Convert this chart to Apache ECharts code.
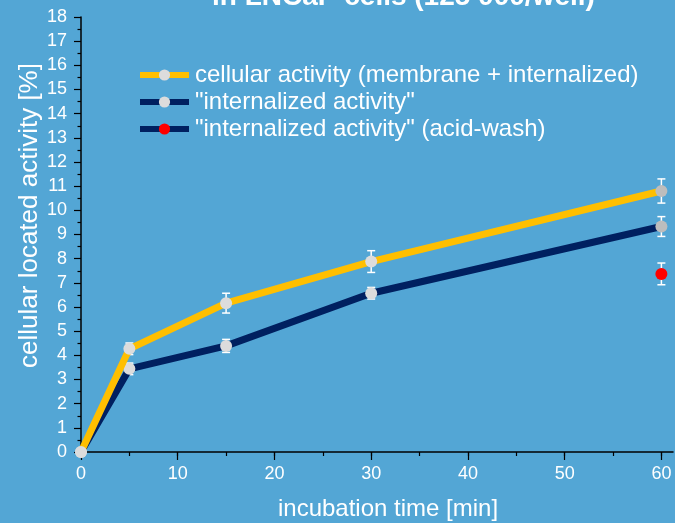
<!DOCTYPE html>
<html>
<head>
<meta charset="utf-8">
<script src="https://cdn.jsdelivr.net/npm/echarts@6/dist/echarts.min.js"></script>
<style>
html,body{margin:0;padding:0;background:#53a6d5;}
#chart{width:675px;height:523px;}
</style>
</head>
<body>
<div id="chart"></div>
<script>
// ---- data ----
const titleText = 'in LNCaP cells (125 000/well)';
const seriesNames = ['cellular activity (membrane + internalized)', '"internalized activity"', '"internalized activity" (acid-wash)'];
const timeMin = [0, 5, 15, 30, 60];
const cellularActivity = [0, 4.27, 6.16, 7.88, 10.8];
const cellularErr = [0, 0.24, 0.41, 0.45, 0.5];
const internalizedActivity = [0, 3.44, 4.39, 6.57, 9.33];
const internalizedErr = [0, 0.24, 0.27, 0.24, 0.41];
const acidWashTime = [60];
const acidWashActivity = [7.37];
const acidWashErr = [0.45];
const xLabelValues = [0, 10, 20, 30, 40, 50, 60];
const xMinorTickValues = [0, 5, 10, 15, 20, 25, 30, 35, 40, 45, 50, 55, 60];

const FONT = '"Liberation Sans", Arial, sans-serif';
const YELLOW = '#ffbf00';
const NAVY = '#002060';
const MARK = '#dcdcdc';
const MARK_END = '#bdbdbd';

function pts(xs, ys) { return xs.map((x, i) => [x, ys[i]]); }
function errPts(xs, ys, es) { return xs.map((x, i) => [x, ys[i] - es[i], ys[i] + es[i]]); }

function markerData(xs, ys, normal, last) {
  return xs.map((x, i) => ({ value: [x, ys[i]], itemStyle: { color: x === 60 ? last : normal } }));
}

function renderErr(params, api) {
  const x = api.value(0);
  const lo = api.value(1), hi = api.value(2);
  if (hi - lo <= 0) return null;
  const pLo = api.coord([x, lo]);
  const pHi = api.coord([x, hi]);
  const hw = 4;
  const style = { stroke: '#ffffff', lineWidth: 1.5 };
  return {
    type: 'group',
    children: [
      { type: 'line', shape: { x1: pLo[0], y1: pLo[1], x2: pHi[0], y2: pHi[1] }, style },
      { type: 'line', shape: { x1: pLo[0] - hw, y1: pLo[1], x2: pLo[0] + hw, y2: pLo[1] }, style },
      { type: 'line', shape: { x1: pHi[0] - hw, y1: pHi[1], x2: pHi[0] + hw, y2: pHi[1] }, style }
    ]
  };
}

const chart = echarts.init(document.getElementById('chart'));
chart.setOption({
  backgroundColor: '#53a6d5',
  animation: false,
  textStyle: { fontFamily: FONT },
  title: {
    text: titleText,
    left: 207,
    top: -22,
    textStyle: { color: '#ffffff', fontSize: 28, fontWeight: 'bold', fontFamily: FONT }
  },
  legend: {
    orient: 'vertical',
    left: 137,
    top: 63,
    padding: 0,
    itemWidth: 49,
    itemHeight: 14,
    itemGap: 3,
    data: seriesNames,
    lineStyle: { width: 6 },
    textStyle: { color: '#ffffff', fontSize: 24, fontFamily: FONT, lineHeight: 24, padding: [0, 0, 0, 1] }
  },
  grid: { left: 81, right: 2, top: 17, bottom: 71, containLabel: false, outerBoundsMode: 'none' },
  xAxis: [{
    type: 'value',
    min: 0,
    max: 61.2,
    name: 'incubation time [min]',
    nameLocation: 'middle',
    nameGap: 45,
    nameMoveOverlap: false,
    nameTextStyle: { color: '#ffffff', fontSize: 24, fontFamily: FONT, padding: [0, 0, 0, 22] },
    axisLine: { show: true, onZero: false, lineStyle: { color: '#000000', width: 1.5 } },
    axisTick: { show: true, customValues: xLabelValues, length: 8, lineStyle: { color: '#000000', width: 1.2 } },
    axisLabel: { customValues: xLabelValues, color: '#ffffff', fontSize: 18, margin: 13, fontFamily: FONT },
    splitLine: { show: false }
  }, {
    type: 'value',
    min: 0,
    max: 61.2,
    position: 'bottom',
    axisLine: { show: false },
    axisTick: { show: true, customValues: xMinorTickValues, length: 4, lineStyle: { color: '#000000', width: 1.2 } },
    axisLabel: { show: false },
    splitLine: { show: false }
  }],
  yAxis: {
    type: 'value',
    min: 0,
    max: 18,
    interval: 1,
    name: 'cellular located activity [%]',
    nameLocation: 'middle',
    nameGap: 38,
    nameMoveOverlap: false,
    nameTextStyle: { color: '#ffffff', fontSize: 26, fontFamily: FONT, padding: [0, 0, 0, 38] },
    axisLine: { show: true, onZero: false, lineStyle: { color: '#000000', width: 1.5 } },
    axisTick: { show: true, length: 7, lineStyle: { color: '#000000', width: 1.2 } },
    minorTick: { show: true, splitNumber: 2, length: 3.5, lineStyle: { color: '#000000', width: 1.2 } },
    axisLabel: { color: '#ffffff', fontSize: 18, margin: 14, fontFamily: FONT },
    splitLine: { show: false }
  },
  series: [
    {
      type: 'custom', name: 'errCell', renderItem: renderErr, z: 1,
      data: errPts(timeMin, cellularActivity, cellularErr), encode: { x: 0, y: [1, 2] }, silent: true
    },
    {
      type: 'custom', name: 'errInt', renderItem: renderErr, z: 1,
      data: errPts(timeMin, internalizedActivity, internalizedErr), encode: { x: 0, y: [1, 2] }, silent: true
    },
    {
      type: 'custom', name: 'errAcid', renderItem: renderErr, z: 1,
      data: errPts(acidWashTime, acidWashActivity, acidWashErr), encode: { x: 0, y: [1, 2] }, silent: true
    },
    {
      name: seriesNames[0], type: 'line', z: 3,
      data: markerData(timeMin, cellularActivity, MARK, MARK_END),
      symbol: 'circle', symbolSize: 12, showAllSymbol: true,
      lineStyle: { color: YELLOW, width: 7 },
      itemStyle: { color: MARK, borderWidth: 0 }
    },
    {
      name: seriesNames[1], type: 'line', z: 2,
      data: markerData(timeMin, internalizedActivity, MARK, MARK_END),
      symbol: 'circle', symbolSize: 12, showAllSymbol: true,
      lineStyle: { color: NAVY, width: 7 },
      itemStyle: { color: MARK, borderWidth: 0 }
    },
    {
      name: seriesNames[2], type: 'line', z: 2,
      data: pts(acidWashTime, acidWashActivity),
      symbol: 'circle', symbolSize: 12,
      lineStyle: { color: NAVY, width: 7 },
      itemStyle: { color: '#ff0000', borderWidth: 0 }
    }
  ]
});
</script>
</body>
</html>
